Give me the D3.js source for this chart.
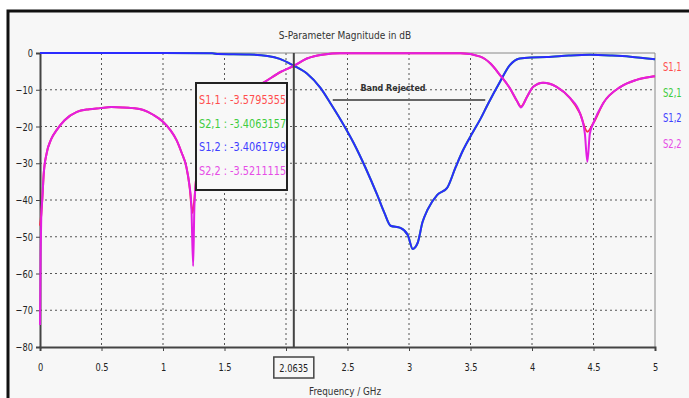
<!DOCTYPE html>
<html>
<head>
<meta charset="utf-8">
<script src="https://cdn.jsdelivr.net/npm/d3@7"></script>
<style>
body { margin: 0; background: #fff; }
svg text { font-family: "DejaVu Sans", sans-serif; }
</style>
</head>
<body>
<svg width="689" height="398"></svg>
<script>
// frequency in GHz, magnitude in dB
const s11Points = [
    [0, -47], [0.01, -44], [0.02, -39], [0.03, -33], [0.054, -27.3], [0.09, -23.5], [0.135, -21],
    [0.2, -18.3], [0.3, -16], [0.4, -15.3], [0.49, -15], [0.58, -14.7], [0.67, -14.8], [0.75, -15],
    [0.84, -15.5], [0.92, -16.8], [1.0, -18.7], [1.06, -21], [1.11, -23.7], [1.15, -27], [1.19, -31],
    [1.215, -36], [1.24, -43.5], [1.255, -40], [1.27, -34], [1.3, -28], [1.4, -20], [1.5, -15.5],
    [1.6, -12.5], [1.7, -10.3], [1.82, -8], [1.96, -5.1], [2.06, -3.58], [2.17, -1.5], [2.31, -0.4],
    [2.44, -0.1], [3.0, -0.1], [3.42, -0.1], [3.58, -1], [3.66, -2.8], [3.74, -6], [3.82, -9.6],
    [3.88, -13.2], [3.91, -14.6], [3.96, -11.9], [4.01, -9.2], [4.09, -8.1], [4.2, -9.2], [4.31, -12.3],
    [4.39, -16.4], [4.45, -21.4], [4.5, -19], [4.58, -13.6], [4.72, -9.2], [4.85, -7.3], [4.98, -6.4], [5, -6.3]
];

const s22Points = [
    [0, -74], [0.005, -55], [0.01, -45], [0.02, -39], [0.03, -33], [0.054, -27.3], [0.09, -23.5], [0.135, -21],
    [0.2, -18.3], [0.3, -16], [0.4, -15.3], [0.49, -15], [0.58, -14.7], [0.67, -14.8], [0.75, -15],
    [0.84, -15.5], [0.92, -16.8], [1.0, -18.7], [1.06, -21], [1.11, -23.7], [1.15, -27], [1.19, -31],
    [1.215, -36], [1.23, -41], [1.245, -58], [1.255, -42], [1.27, -34], [1.3, -28], [1.4, -20], [1.5, -15.5],
    [1.6, -12.5], [1.7, -10.3], [1.82, -8], [1.96, -5.1], [2.06, -3.52], [2.17, -1.5], [2.31, -0.4],
    [2.44, -0.1], [3.0, -0.1], [3.42, -0.1], [3.58, -1], [3.66, -2.8], [3.74, -6], [3.82, -9.6],
    [3.88, -13.2], [3.91, -14.8], [3.96, -11.9], [4.01, -9.2], [4.09, -8.1], [4.2, -9.2], [4.31, -12.3],
    [4.39, -16.4], [4.43, -22], [4.45, -29.6], [4.47, -22], [4.5, -19], [4.58, -13.6], [4.72, -9.2],
    [4.85, -7.3], [4.98, -6.4], [5, -6.3]
];

const s12Points = [
    [0, 0], [0.5, 0], [1.0, 0], [1.4, -0.1], [1.45, -0.3], [1.7, -0.4], [1.85, -0.8], [1.95, -1.6],
    [2.06, -3.41], [2.17, -5.6], [2.28, -9.5], [2.36, -13.6], [2.45, -18.5], [2.55, -24.5], [2.65, -31.5],
    [2.74, -38.5], [2.8, -43.5], [2.85, -47], [2.93, -47.6], [2.99, -49.5], [3.03, -53.3], [3.07, -51.7],
    [3.11, -46], [3.15, -42.7], [3.23, -38.6], [3.31, -36.7], [3.38, -31], [3.44, -26.4], [3.52, -21.5],
    [3.58, -18], [3.64, -14], [3.74, -7.8], [3.82, -3.3], [3.9, -1.5], [3.99, -1.2], [4.12, -1.1],
    [4.3, -0.7], [4.47, -0.5], [4.65, -0.7], [4.8, -1], [5, -1.7]
];

// S2,1 lies right under S1,2 in the picture
const s21Points = s12Points;

const xTicks = [0, 0.5, 1, 1.5, 2, 2.5, 3, 3.5, 4, 4.5, 5];
const yTicks = [0, -10, -20, -30, -40, -50, -60, -70, -80];

const markerFreq = 2.0635;
const markerLabels = ["S1,1 : -3.5795355", "S2,1 : -3.4063157", "S1,2 : -3.4061799", "S2,2 : -3.5211115"];
const seriesNames = ["S1,1", "S2,1", "S1,2", "S2,2"];
const seriesColors = ["#ff2a4a", "#33cc33", "#2b2bff", "#e21ee2"];
const labelColors = ["#ff4d4d", "#40cc40", "#4040ff", "#e64de6"];

const svg = d3.select("svg");

// squeeze text horizontally, the original font is a narrow one
function condense(sel, k) {
    sel.each(function() {
        const len = this.getComputedTextLength();
        d3.select(this)
            .attr("textLength", len * k)
            .attr("lengthAdjust", "spacingAndGlyphs");
    });
}

// outer panel
svg.append("rect")
    .attr("x", 8)
    .attr("y", 11)
    .attr("width", 700)
    .attr("height", 400)
    .attr("fill", "#f7f7f7")
    .attr("stroke", "#111")
    .attr("stroke-width", 3);

const x = d3.scaleLinear().domain([0, 5]).range([40, 655]);
const y = d3.scaleLinear().domain([-80, 0]).range([347, 53]);

svg.append("text")
    .attr("x", 345)
    .attr("y", 39)
    .attr("text-anchor", "middle")
    .attr("font-size", "11px")
    .attr("fill", "#333")
    .text("S-Parameter Magnitude in dB")
    .call(condense, 0.82);

// grid
const grid = svg.append("g");
grid.selectAll(".vgrid")
    .data(xTicks.slice(1, -1))
    .enter()
    .append("line")
    .attr("x1", d => x(d))
    .attr("x2", d => x(d))
    .attr("y1", y(0))
    .attr("y2", y(-80))
    .attr("stroke", "#555")
    .attr("stroke-dasharray", "2,3");

grid.selectAll(".hgrid")
    .data(yTicks.slice(1, -1))
    .enter()
    .append("line")
    .attr("x1", x(0))
    .attr("x2", x(5))
    .attr("y1", d => y(d))
    .attr("y2", d => y(d))
    .attr("stroke", "#555")
    .attr("stroke-dasharray", "2,3");

// frame
svg.append("line").attr("x1", x(0)).attr("x2", x(5)).attr("y1", y(0)).attr("y2", y(0)).attr("stroke", "#888");
svg.append("line").attr("x1", x(5)).attr("x2", x(5)).attr("y1", y(0)).attr("y2", y(-80)).attr("stroke", "#888");

// the "2" label is covered by the marker readout in the original
const xAxis = svg.append("g")
    .attr("transform", "translate(0," + y(-80) + ")")
    .call(d3.axisBottom(x).tickValues(xTicks).tickSize(4).tickPadding(12)
        .tickFormat(d => d === 2 ? "" : d));

const yAxis = svg.append("g")
    .attr("transform", "translate(" + x(0) + ",0)")
    .call(d3.axisLeft(y).tickValues(yTicks).tickSize(4).tickPadding(3).tickFormat(d3.format("")));

[xAxis, yAxis].forEach(a => {
    a.select(".domain").attr("stroke", "#444").attr("stroke-width", 2);
    a.selectAll(".tick line").attr("stroke", "#444");
    a.selectAll(".tick text")
        .attr("font-family", "DejaVu Sans, sans-serif")
        .attr("font-size", "11px")
        .attr("fill", "#222")
        .filter(function() { return this.textContent !== ""; })
        .call(condense, 0.75);
});

svg.append("text")
    .attr("x", 345)
    .attr("y", 395)
    .attr("text-anchor", "middle")
    .attr("font-size", "11px")
    .attr("fill", "#333")
    .text("Frequency / GHz")
    .call(condense, 0.8);

// band rejected annotation
svg.append("line")
    .attr("x1", x(2.38))
    .attr("x2", x(3.62))
    .attr("y1", 100)
    .attr("y2", 100)
    .attr("stroke", "#666")
    .attr("stroke-width", 2);

svg.append("text")
    .attr("x", x(2.87))
    .attr("y", 91)
    .attr("text-anchor", "middle")
    .attr("font-family", "Liberation Serif, serif")
    .attr("font-weight", "bold")
    .attr("font-size", "8px")
    .attr("fill", "#333")
    .text("Band Rejected");

// curves
const line = d3.line()
    .x(d => x(d[0]))
    .y(d => y(d[1]))
    .curve(d3.curveMonotoneX);

const allSeries = [s11Points, s21Points, s12Points, s22Points];

svg.selectAll(".curve")
    .data(allSeries)
    .enter()
    .append("path")
    .attr("class", "curve")
    .attr("d", line)
    .attr("fill", "none")
    .attr("stroke", (d, i) => seriesColors[i])
    .attr("stroke-width", 2);

// marker
svg.append("line")
    .attr("x1", x(markerFreq))
    .attr("x2", x(markerFreq))
    .attr("y1", y(0))
    .attr("y2", y(-80))
    .attr("stroke", "#444")
    .attr("stroke-width", 2);

svg.append("rect")
    .attr("x", x(markerFreq) - 20)
    .attr("y", 357)
    .attr("width", 40)
    .attr("height", 21)
    .attr("fill", "#f7f7f7")
    .attr("stroke", "#444")
    .attr("stroke-width", 1.5);

svg.append("text")
    .attr("x", x(markerFreq))
    .attr("y", 372)
    .attr("text-anchor", "middle")
    .attr("font-size", "11px")
    .attr("fill", "#222")
    .text(markerFreq)
    .call(condense, 0.75);

// marker readout box
const info = svg.append("g");
info.append("rect")
    .attr("x", 196)
    .attr("y", 83)
    .attr("width", 91)
    .attr("height", 107)
    .attr("fill", "#f8f8f8")
    .attr("stroke", "#222")
    .attr("stroke-width", 2);

info.selectAll(".readout")
    .data(markerLabels)
    .enter()
    .append("text")
    .attr("x", 199)
    .attr("y", (d, i) => 104 + i * 23.5)
    .attr("font-size", "12px")
    .attr("fill", (d, i) => labelColors[i])
    .text(d => d)
    .call(condense, 0.81);

// legend
svg.selectAll(".legend")
    .data(seriesNames)
    .enter()
    .append("text")
    .attr("x", 663)
    .attr("y", (d, i) => 71 + i * 25.5)
    .attr("font-size", "12px")
    .attr("fill", (d, i) => labelColors[i])
    .text(d => d)
    .call(condense, 0.7);
</script>
</body>
</html>
